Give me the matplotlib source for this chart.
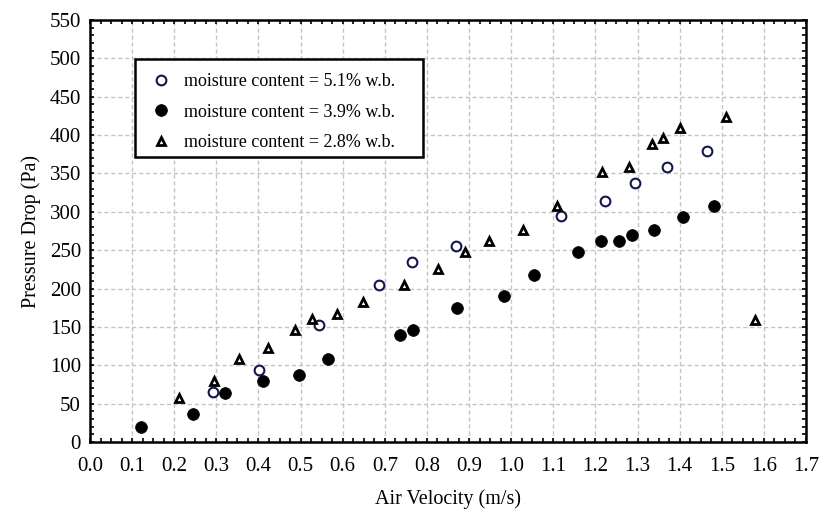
import matplotlib
matplotlib.use("Agg")
import matplotlib.pyplot as plt
from matplotlib.ticker import MultipleLocator
from matplotlib.patches import Rectangle

plt.rcParams['font.family'] = ['Liberation Serif', 'DejaVu Serif']

# moisture content = 5.1% w.b.
x51 = [0.293, 0.402, 0.543, 0.686, 0.765, 0.868, 1.119, 1.222, 1.294, 1.371, 1.465]
y51 = [65, 94, 152, 204, 234, 256, 294, 314, 337, 358, 379]

# moisture content = 3.9% w.b.
x39 = [0.120, 0.245, 0.321, 0.411, 0.496, 0.564, 0.735, 0.766, 0.872, 0.983,
       1.055, 1.158, 1.213, 1.255, 1.286, 1.340, 1.409, 1.481]
y39 = [19, 36, 64, 80, 87, 108, 139, 146, 174, 190,
       218, 248, 262, 262, 270, 276, 293, 307]

# moisture content = 2.8% w.b.
x28 = [0.212, 0.294, 0.354, 0.423, 0.486, 0.527, 0.587, 0.648, 0.746, 0.827,
       0.891, 0.947, 1.028, 1.108, 1.215, 1.279, 1.335, 1.361, 1.400, 1.511, 1.578]
y28 = [57, 80, 108, 122, 146, 160, 167, 183, 204, 225,
       248, 262, 276, 307, 352, 359, 389, 396, 409, 424, 159]

labels = ['moisture content = 5.1% w.b.',
          'moisture content = 3.9% w.b.',
          'moisture content = 2.8% w.b.']

fig = plt.figure(figsize=(8.24, 5.12), dpi=100)
ax = fig.add_axes([90/824, 1 - 442/512, 716/824, 422/512])

ax.plot(x51, y51, 'o', ms=7.0, mfc='white', mec='#15154f', mew=1.5, label=labels[0], zorder=3)
ax.plot(x39, y39, 'o', ms=8.5, mfc='black', mec='black', mew=0.5, label=labels[1], zorder=3)
ax.plot(x28, y28, '^', ms=6.0, mfc='white', mec='black', mew=2.0, label=labels[2], zorder=3)

ax.set_xlim(0, 1.7)
ax.set_ylim(0, 550)
ax.xaxis.set_major_locator(MultipleLocator(0.1))
ax.xaxis.set_minor_locator(MultipleLocator(0.025))
ax.yaxis.set_major_locator(MultipleLocator(50))
ax.yaxis.set_minor_locator(MultipleLocator(10))
ax.xaxis.set_major_formatter(plt.FormatStrFormatter('%.1f'))

ax.tick_params(which='both', direction='in', top=True, right=True,
               length=3, width=1.2, labelsize=15)
ax.tick_params(axis='x', which='major', pad=11)
ax.tick_params(axis='y', which='major', pad=6.5)
for s in ax.spines.values():
    s.set_linewidth(1.8)

ax.grid(True, which='major', color='#c4c4c4', linestyle=(0, (3, 2)), linewidth=1.0)
ax.set_axisbelow(True)

ax.set_xlabel('Air Velocity (m/s)', fontsize=14.5, labelpad=9)
ax.set_ylabel('Pressure Drop (Pa)', fontsize=14.5, labelpad=6)

# legend box drawn separately so it can be wider than the text
box = Rectangle((45/716, 285/422), 288/716, 98/422, transform=ax.transAxes,
                facecolor='white', edgecolor='black', linewidth=1.8, zorder=4)
ax.add_patch(box)
leg = ax.legend(loc='upper left', bbox_to_anchor=(49/716, 1 - 44/422),
                fontsize=13, frameon=False,
                borderpad=0.5, labelspacing=0.75, handletextpad=0.6,
                handlelength=1.4, borderaxespad=0)
leg.set_zorder(5)

fig.savefig('out.png', dpi=100)
